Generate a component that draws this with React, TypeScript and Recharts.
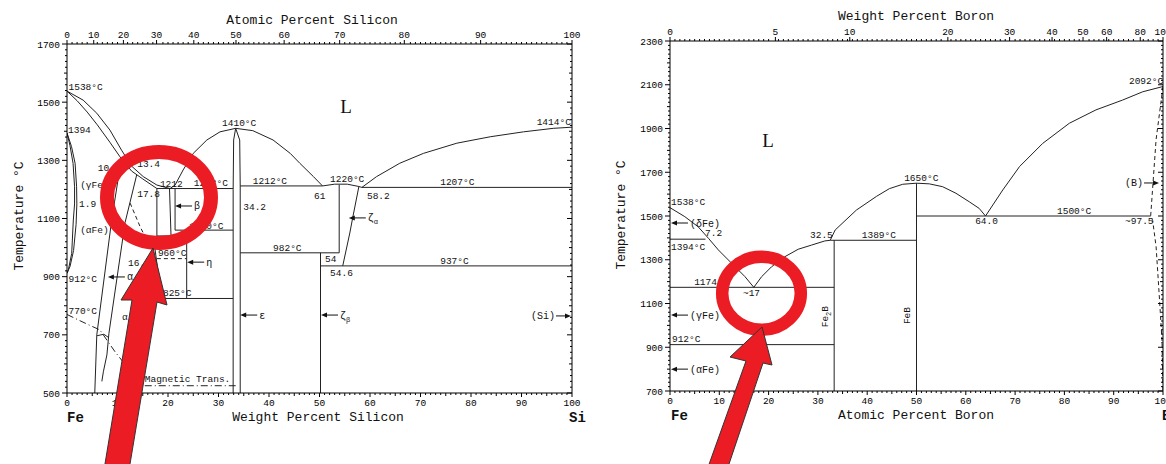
import React from "react";
import { ComposedChart, Line, Scatter, XAxis, YAxis } from "recharts";

const MONO = "'Liberation Mono', 'DejaVu Sans Mono', monospace";
const SERIF = "'Liberation Serif', 'DejaVu Serif', serif";
const RED = "#ec1c24";
const INK = "#222";

// ---------- Fe-Si : weight % Si vs °C ----------
const siLiquidusFe = [[0, 1538], [3.2, 1507], [5.9, 1462], [8.5, 1404], [10.8, 1335], [12.8, 1280], [15.1, 1244], [17.8, 1215], [20.4, 1203]];
const siSolidusFe = [[0, 1538], [2, 1505], [4, 1466], [6, 1422], [8.5, 1362], [10.5, 1312], [12.8, 1263], [15, 1236], [17.8, 1203]];
const siLiquidusEpsL = [[20.4, 1203], [21.4, 1215], [23, 1267], [25, 1324], [27.7, 1370], [30.3, 1398], [33.4, 1410]];
const siLiquidusEpsR = [[33.4, 1410], [36.8, 1402], [40.8, 1370], [44.2, 1324], [46.1, 1290], [48.8, 1244], [50.6, 1212]];
const siLiquidusZeta = [[50.6, 1212], [53, 1218], [55.5, 1218], [57.8, 1210], [58.4, 1207]];
const siLiquidusSi = [[58.4, 1207], [61.3, 1244], [65.9, 1290], [70.6, 1324], [77.2, 1359], [83.8, 1381], [90.4, 1398], [96.3, 1410], [100, 1414]];
const siGammaOuter = [[0, 1394], [0.9, 1347], [1.6, 1290], [1.9, 1209], [1.95, 1150], [1.8, 1080], [1.3, 990], [0.6, 935], [0, 912]];
const siGammaInner = [[0, 1394], [0.6, 1350], [1.2, 1290], [1.5, 1209], [1.5, 1150], [1.25, 1095], [0.93, 980], [0.26, 923], [0, 912]];
const siAlphaA = [[10.2, 1244], [8.85, 1095], [5.9, 700], [5.5, 500]];
const siAlphaB = [[13.8, 1250], [11.5, 1086], [8.3, 705], [7.9, 631], [7.2, 573], [6.9, 540]];
const siKink = [[5.95, 697], [7.3, 702], [8.3, 690]];
const siAlpha2 = [[17.8, 1203], [17.8, 1040], [17.4, 998], [18.75, 825]];
const siBetaL = [[20.3, 1203], [20.6, 1040]];
const siBetaR = [[21.4, 1203], [21.4, 1060]];
const siEtaR = [[23.7, 1060], [23.7, 825]];
const siEpsL = [[33.4, 1410], [33.0, 1370], [32.9, 1200], [32.9, 500]];
const siEpsR = [[33.4, 1410], [34.2, 1370], [34.3, 1212], [34.3, 500]];
const siZetaAL = [[53.9, 1216], [53.9, 982]];
const siZetaAR = [[57.8, 1210], [56.6, 1105], [56.0, 1050], [54.6, 937]];
const siZetaB = [[50.2, 982], [50.2, 500]];
const siIso1203 = [[17.8, 1203], [32.9, 1203]];
const siIso1212 = [[34.3, 1212], [50.6, 1212]];
const siIso1207 = [[58.4, 1207], [100, 1207]];
const siIso1060 = [[21.4, 1060], [32.9, 1060]];
const siIso1040 = [[17.8, 1040], [20.6, 1040]];
const siIso982 = [[34.3, 982], [53.9, 982]];
const siIso937 = [[50.2, 937], [100, 937]];
const siIso825 = [[18.75, 825], [32.9, 825]];
const siIso960 = [[17.8, 962], [23.7, 962]];
const siOrdering = [[12.5, 1153], [14.5, 1071], [15.8, 1026], [16.4, 1009]];
const siMagnetic = [[0, 770], [3.6, 740], [6.5, 717], [9.5, 642], [11.1, 607], [13.2, 560], [15.4, 527]];
const siMagneticLow = [[15.4, 525], [33.4, 525]];
const siFrame = [[0, 500], [100, 1700]];

const siNotes = [
  { x: 0.3, t: 1542, s: "1538°C" }, { x: 0.2, t: 1393, s: "1394" }, { x: 6.1, t: 1262, s: "10" },
  { x: 13.9, t: 1277, s: "13.4" }, { x: 18.4, t: 1210, s: "1212" }, { x: 13.9, t: 1174, s: "17.8" },
  { x: 25.1, t: 1212, s: "1203°C" }, { x: 36.8, t: 1218, s: "1212°C" }, { x: 30.7, t: 1418, s: "1410°C" },
  { x: 93.0, t: 1420, s: "1414°C" }, { x: 48.9, t: 1168, s: "61" }, { x: 52.1, t: 1226, s: "1220°C" },
  { x: 59.4, t: 1168, s: "58.2" }, { x: 73.9, t: 1214, s: "1207°C" }, { x: 34.9, t: 1128, s: "34.2" },
  { x: 2.6, t: 1205, s: "(γFe)" }, { x: 2.4, t: 1140, s: "1.9" }, { x: 2.6, t: 1050, s: "(αFe)" },
  { x: 0.3, t: 882, s: "912°C" }, { x: 0.3, t: 773, s: "770°C" }, { x: 10.9, t: 752, s: "α" },
  { x: 12.1, t: 938, s: "16.5" }, { x: 18.0, t: 970, s: "960°C" }, { x: 24.2, t: 1064, s: "1060°C" },
  { x: 19.0, t: 833, s: "825°C" }, { x: 40.8, t: 988, s: "982°C" }, { x: 73.9, t: 942, s: "937°C" },
  { x: 51.1, t: 950, s: "54" }, { x: 52.1, t: 902, s: "54.6" }, { x: 15.4, t: 538, s: "Magnetic Trans." },
];
const siArrowsLeft = [
  { x: 8.1, t: 899, s: "α" }, { x: 21.4, t: 1143, s: "β" }, { x: 23.8, t: 950, s: "η" },
  { x: 34.3, t: 768, s: "ε" }, { x: 50.3, t: 768, s: "ζβ" }, { x: 55.8, t: 1102, s: "ζα" },
];
const siArrowsRight = [{ x: 99.8, t: 765, s: "(Si)" }];
const siBig = [{ x: 54.1, t: 1463, s: "L" }];
const siAtomicLabels = [0, 10, 20, 30, 40, 50, 60, 70, 80, 90, 100];

// ---------- Fe-B : atomic % B vs °C ----------
const bLiquidusFe = [[0, 1538], [3, 1497], [5.7, 1451], [7.8, 1398], [9.8, 1345], [12.5, 1284], [15.2, 1223], [17, 1174]];
const bLiquidusFe2B = [[17, 1174], [18.6, 1223], [20.6, 1268], [23.3, 1314], [26, 1348], [28.7, 1367], [31.4, 1386], [32.5, 1389]];
const bLiquidusFeB = [[32.5, 1389], [33.5, 1436], [37.8, 1527], [41.9, 1590], [44.5, 1625], [47.2, 1645], [50, 1650], [52.6, 1647], [55.3, 1634], [58, 1604], [60.7, 1565], [62.7, 1535], [64, 1500]];
const bLiquidusB = [[64, 1500], [67.5, 1619], [70.9, 1726], [75.6, 1832], [81, 1924], [86.4, 1985], [91.8, 2030], [95.9, 2068], [100, 2092]];
const bSolvusB = [[100, 2092], [98.6, 1850], [97.5, 1500], [97.9, 1480], [98.6, 1360], [99.3, 1116], [99.8, 930], [100, 700]];
const bIso1394 = [[0, 1394], [7.2, 1394]];
const bIso1174 = [[0, 1174], [33.3, 1174]];
const bIso912 = [[0, 912], [33.3, 912]];
const bIso1389 = [[32.5, 1389], [50, 1389]];
const bIso1500 = [[50, 1500], [97.5, 1500]];
const bFe2B = [[33.3, 1389], [33.3, 700]];
const bFeB = [[50, 1650], [50, 700]];
const bFrame = [[0, 700], [100, 2300]];

const bNotes = [
  { x: 0.2, t: 1552, s: "1538°C" }, { x: 7.1, t: 1409, s: "7.2" }, { x: 0.2, t: 1345, s: "1394°C" },
  { x: 4.9, t: 1185, s: "1174°C" }, { x: 14.8, t: 1134, s: "~17" }, { x: 28.4, t: 1399, s: "32.5" },
  { x: 38.9, t: 1399, s: "1389°C" }, { x: 0.4, t: 924, s: "912°C" }, { x: 47.5, t: 1660, s: "1650°C" },
  { x: 61.9, t: 1463, s: "64.0" }, { x: 78.5, t: 1509, s: "1500°C" }, { x: 92.3, t: 1463, s: "~97.5" },
  { x: 93.1, t: 2103, s: "2092°C" },
];
const bArrowsLeft = [{ x: 0.2, t: 1468, s: "(δFe)" }, { x: 0.2, t: 1047, s: "(γFe)" }, { x: 0.2, t: 800, s: "(αFe)" }];
const bArrowsRight = [{ x: 99.2, t: 1651, s: "(B)" }];
const bBig = [{ x: 18.7, t: 1815, s: "L" }];
const bPhases = [{ x: 32.1, t: 1040, s: "Fe2B" }, { x: 48.6, t: 1045, s: "FeB" }];
const bWeightLabels = [0, 5, 10, 20, 30, 40, 50, 60, 80, 100];

// ---------- helpers ----------
const pts = (a: number[][]) => a.map(([x, t]) => ({ x, t }));
const range = (a: number, b: number, s: number) => {
  const r: number[] = [];
  for (let v = a; v <= b + 1e-9; v += s) r.push(+v.toFixed(6));
  return r;
};
const atToWtSi = (a: number) => (a * 28.086) / (a * 28.086 + (100 - a) * 55.845) * 100;
const wtToAtB = (w: number) => (w / 10.811) / (w / 10.811 + (100 - w) / 55.845) * 100;

const pctTicks = range(0, 100, 1);
const siTopMajors = siAtomicLabels.map((a) => ({ pos: atToWtSi(a), label: String(a) }));
const bTopMajors = bWeightLabels.map((w) => ({ pos: wtToAtB(w), label: String(w) }));
const withMajors = (majors: { pos: number }[]) => [
  ...pctTicks.filter((v) => !majors.some((m) => Math.abs(m.pos - v) < 0.4)),
  ...majors.map((m) => m.pos),
];

const tickText = { fontFamily: MONO, fontSize: 9.5, fill: "#000" };

const yTick = (base: number, showLabel: boolean) => (p: any) => {
  const v = Math.round(p.payload.value);
  const lab = (v - base) % 200 === 0;
  const len = lab ? 5 : v % 100 === 0 ? 3 : 2;
  return (
    <g>
      <line x1={p.x} x2={p.x - len} y1={p.y} y2={p.y} stroke="#000" />
      {showLabel && lab && (
        <text x={p.x - 7} y={p.y + 3.5} textAnchor="end" {...tickText}>{v}</text>
      )}
    </g>
  );
};

const bottomTick = (p: any) => {
  const v = Math.round(p.payload.value);
  const lab = v % 10 === 0;
  const len = lab ? 4 : v % 5 === 0 ? 3 : 2;
  return (
    <g>
      <line x1={p.x} x2={p.x} y1={p.y} y2={p.y + len} stroke="#000" />
      {lab && <text x={p.x} y={p.y + 13} textAnchor="middle" {...tickText}>{v}</text>}
    </g>
  );
};

const topTick = (majors: { pos: number; label: string }[]) => (p: any) => {
  const m = majors.find((q) => Math.abs(q.pos - p.payload.value) < 1e-6);
  return (
    <g>
      <line x1={p.x} x2={p.x} y1={p.y} y2={p.y - (m ? 4 : 2)} stroke="#000" />
      {m && <text x={p.x} y={p.y - 6} textAnchor="middle" {...tickText}>{m.label}</text>}
    </g>
  );
};

const labelText = (s: string) => {
  if (s.length === 2 && s[0] === "ζ")
    return (<>ζ<tspan dy={3} fontSize={7}>{s[1]}</tspan></>);
  if (s === "Fe2B") return (<>Fe<tspan dy={3} fontSize={7}>2</tspan><tspan dy={-3}>B</tspan></>);
  return s;
};

const noteStyle = { fontFamily: MONO, fontSize: 9.5, fill: "#111" };

const Note = (p: any) => (
  <text x={p.cx} y={p.cy} {...noteStyle}>{labelText(p.payload.s)}</text>
);
const BigNote = (p: any) => (
  <text x={p.cx} y={p.cy} fontFamily={SERIF} fontSize={19} fill="#111">{p.payload.s}</text>
);
const PhaseNote = (p: any) => (
  <text x={p.cx} y={p.cy} transform={`rotate(-90 ${p.cx} ${p.cy})`} textAnchor="middle" {...noteStyle}>
    {labelText(p.payload.s)}
  </text>
);
const ArrowLeftNote = (p: any) => (
  <g>
    <polygon points={`${p.cx},${p.cy} ${p.cx + 6},${p.cy - 2.5} ${p.cx + 6},${p.cy + 2.5}`} fill="#111" />
    <line x1={p.cx + 5} x2={p.cx + 17} y1={p.cy} y2={p.cy} stroke="#111" />
    <text x={p.cx + 19} y={p.cy + 3.5} {...noteStyle} fontSize={10}>{labelText(p.payload.s)}</text>
  </g>
);
const ArrowRightNote = (p: any) => (
  <g>
    <polygon points={`${p.cx},${p.cy} ${p.cx - 6},${p.cy - 2.5} ${p.cx - 6},${p.cy + 2.5}`} fill="#111" />
    <line x1={p.cx - 5} x2={p.cx - 15} y1={p.cy} y2={p.cy} stroke="#111" />
    <text x={p.cx - 16} y={p.cy + 3.5} textAnchor="end" {...noteStyle} fontSize={10}>{p.payload.s}</text>
  </g>
);

const series = (list: number[][][], key: string, dash?: string) =>
  list.map((d, i) => (
    <Line
      key={key + i}
      data={pts(d)}
      dataKey="t"
      type="linear"
      stroke={INK}
      strokeWidth={1}
      strokeDasharray={dash}
      dot={false}
      activeDot={false}
      legendType="none"
      isAnimationActive={false}
    />
  ));

// invisible series so the top and right axes get their ticks
const frameLine = (d: number[][]) => (
  <Line
    key="frame"
    xAxisId="top"
    yAxisId="r"
    data={pts(d)}
    dataKey="t"
    stroke="none"
    dot={false}
    activeDot={false}
    legendType="none"
    isAnimationActive={false}
  />
);

const notes = (data: any[], shape: any, key: string) => (
  <Scatter key={key} data={data} dataKey="t" shape={shape} isAnimationActive={false} legendType="none" />
);

const AX = { stroke: "#000", strokeWidth: 1 };

function FeSiChart() {
  const yTicks = range(500, 1700, 20);
  return (
    <ComposedChart width={600} height={464} margin={{ top: 14, right: 18, bottom: 41, left: 7 }}>
      <XAxis dataKey="x" type="number" domain={[0, 100]} allowDataOverflow ticks={pctTicks} interval={0}
        tick={bottomTick} tickLine={false} tickSize={0} tickMargin={0} axisLine={AX} height={30} />
      <XAxis xAxisId="top" dataKey="x" orientation="top" type="number" domain={[0, 100]} allowDataOverflow
        ticks={withMajors(siTopMajors)} interval={0} tick={topTick(siTopMajors)} tickLine={false}
        tickSize={0} tickMargin={0} axisLine={AX} height={30} />
      <YAxis type="number" domain={[500, 1700]} allowDataOverflow ticks={yTicks} interval={0}
        tick={yTick(500, true)} tickLine={false} tickSize={0} tickMargin={0} axisLine={AX} width={60} />
      <YAxis yAxisId="r" orientation="right" type="number" domain={[500, 1700]} allowDataOverflow ticks={yTicks}
        interval={0} tick={yTick(500, false)} tickLine={false} tickSize={0} tickMargin={0} axisLine={AX} width={10} />
      {frameLine(siFrame)}
      {series([
        siLiquidusFe, siSolidusFe, siLiquidusEpsL, siLiquidusEpsR, siLiquidusZeta, siLiquidusSi,
        siGammaOuter, siGammaInner, siAlphaA, siAlphaB, siKink, siAlpha2, siBetaL, siBetaR, siEtaR,
        siEpsL, siEpsR, siZetaAL, siZetaAR, siZetaB, siIso1203, siIso1212, siIso1207, siIso1060,
        siIso1040, siIso982, siIso937, siIso825,
      ], "si")}
      {series([siIso960, siOrdering], "sid", "4 3")}
      {series([siMagnetic, siMagneticLow], "sim", "7 3 1 3")}
      {notes(siNotes, Note, "n1")}
      {notes(siArrowsLeft, ArrowLeftNote, "n2")}
      {notes(siArrowsRight, ArrowRightNote, "n3")}
      {notes(siBig, BigNote, "n4")}
    </ComposedChart>
  );
}

function FeBChart() {
  const yTicks = range(700, 2300, 20);
  return (
    <ComposedChart width={600} height={464} margin={{ top: 11, right: 27, bottom: 43, left: 10 }}>
      <XAxis dataKey="x" type="number" domain={[0, 100]} allowDataOverflow ticks={pctTicks} interval={0}
        tick={bottomTick} tickLine={false} tickSize={0} tickMargin={0} axisLine={AX} height={30} />
      <XAxis xAxisId="top" dataKey="x" orientation="top" type="number" domain={[0, 100]} allowDataOverflow
        ticks={withMajors(bTopMajors)} interval={0} tick={topTick(bTopMajors)} tickLine={false}
        tickSize={0} tickMargin={0} axisLine={AX} height={30} />
      <YAxis type="number" domain={[700, 2300]} allowDataOverflow ticks={yTicks} interval={0}
        tick={yTick(700, true)} tickLine={false} tickSize={0} tickMargin={0} axisLine={AX} width={60} />
      <YAxis yAxisId="r" orientation="right" type="number" domain={[700, 2300]} allowDataOverflow ticks={yTicks}
        interval={0} tick={yTick(700, false)} tickLine={false} tickSize={0} tickMargin={0} axisLine={AX} width={10} />
      {frameLine(bFrame)}
      {series([
        bLiquidusFe, bLiquidusFe2B, bLiquidusFeB, bLiquidusB, bIso1394, bIso1174, bIso912,
        bIso1389, bIso1500, bFe2B, bFeB,
      ], "b")}
      {series([bSolvusB], "bd", "4 3")}
      {notes(bNotes, Note, "m1")}
      {notes(bArrowsLeft, ArrowLeftNote, "m2")}
      {notes(bArrowsRight, ArrowRightNote, "m3")}
      {notes(bBig, BigNote, "m4")}
      {notes(bPhases, PhaseNote, "m5")}
    </ComposedChart>
  );
}

const title = { fontFamily: MONO, fontSize: 13, fill: "#111" };

export default function App() {
  return (
    <div style={{ position: "absolute", left: 0, top: 0, width: 1166, height: 464, overflow: "hidden", background: "#fff" }}>
      <div style={{ position: "absolute", left: 0, top: 0 }}>
        <FeSiChart />
      </div>
      <div style={{ position: "absolute", left: 600, top: 0 }}>
        <FeBChart />
      </div>
      <svg width={1166} height={464} style={{ position: "absolute", left: 0, top: 0, pointerEvents: "none" }}>
        {/* titles */}
        <text x={312} y={24} textAnchor="middle" {...title}>Atomic Percent Silicon</text>
        <text x={318} y={421} textAnchor="middle" {...title}>Weight Percent Silicon</text>
        <text x={67} y={422} {...title} fontSize={14} fontWeight="bold">Fe</text>
        <text x={569} y={422} {...title} fontSize={14} fontWeight="bold">Si</text>
        <text x={23} y={216} textAnchor="middle" transform="rotate(-90 23 216)" {...title}>Temperature °C</text>
        <text x={916} y={20} textAnchor="middle" {...title}>Weight Percent Boron</text>
        <text x={916} y={419} textAnchor="middle" {...title}>Atomic Percent Boron</text>
        <text x={671} y={420} {...title} fontSize={14} fontWeight="bold">Fe</text>
        <text x={1162} y={420} {...title} fontSize={14} fontWeight="bold">B</text>
        <text x={625} y={215} textAnchor="middle" transform="rotate(-90 625 215)" {...title}>Temperature °C</text>

        {/* red highlight rings and arrows */}
        <ellipse cx={159} cy={197.5} rx={52} ry={45.5} fill="none" stroke={RED} strokeWidth={14} />
        <polygon points="153,248 167,305 157,302 129,470 104,470 132,300 121,300"
          fill={RED} stroke="#333" strokeWidth={1} strokeLinejoin="miter" />
        <ellipse cx={761.5} cy={293.3} rx={39.3} ry={36.5} fill="none" stroke={RED} strokeWidth={12.5} />
        <polygon points="762,327 772,365 763,363 727,470 707,470 746,361 730,357"
          fill={RED} stroke="#333" strokeWidth={1} strokeLinejoin="miter" />
      </svg>
    </div>
  );
}
